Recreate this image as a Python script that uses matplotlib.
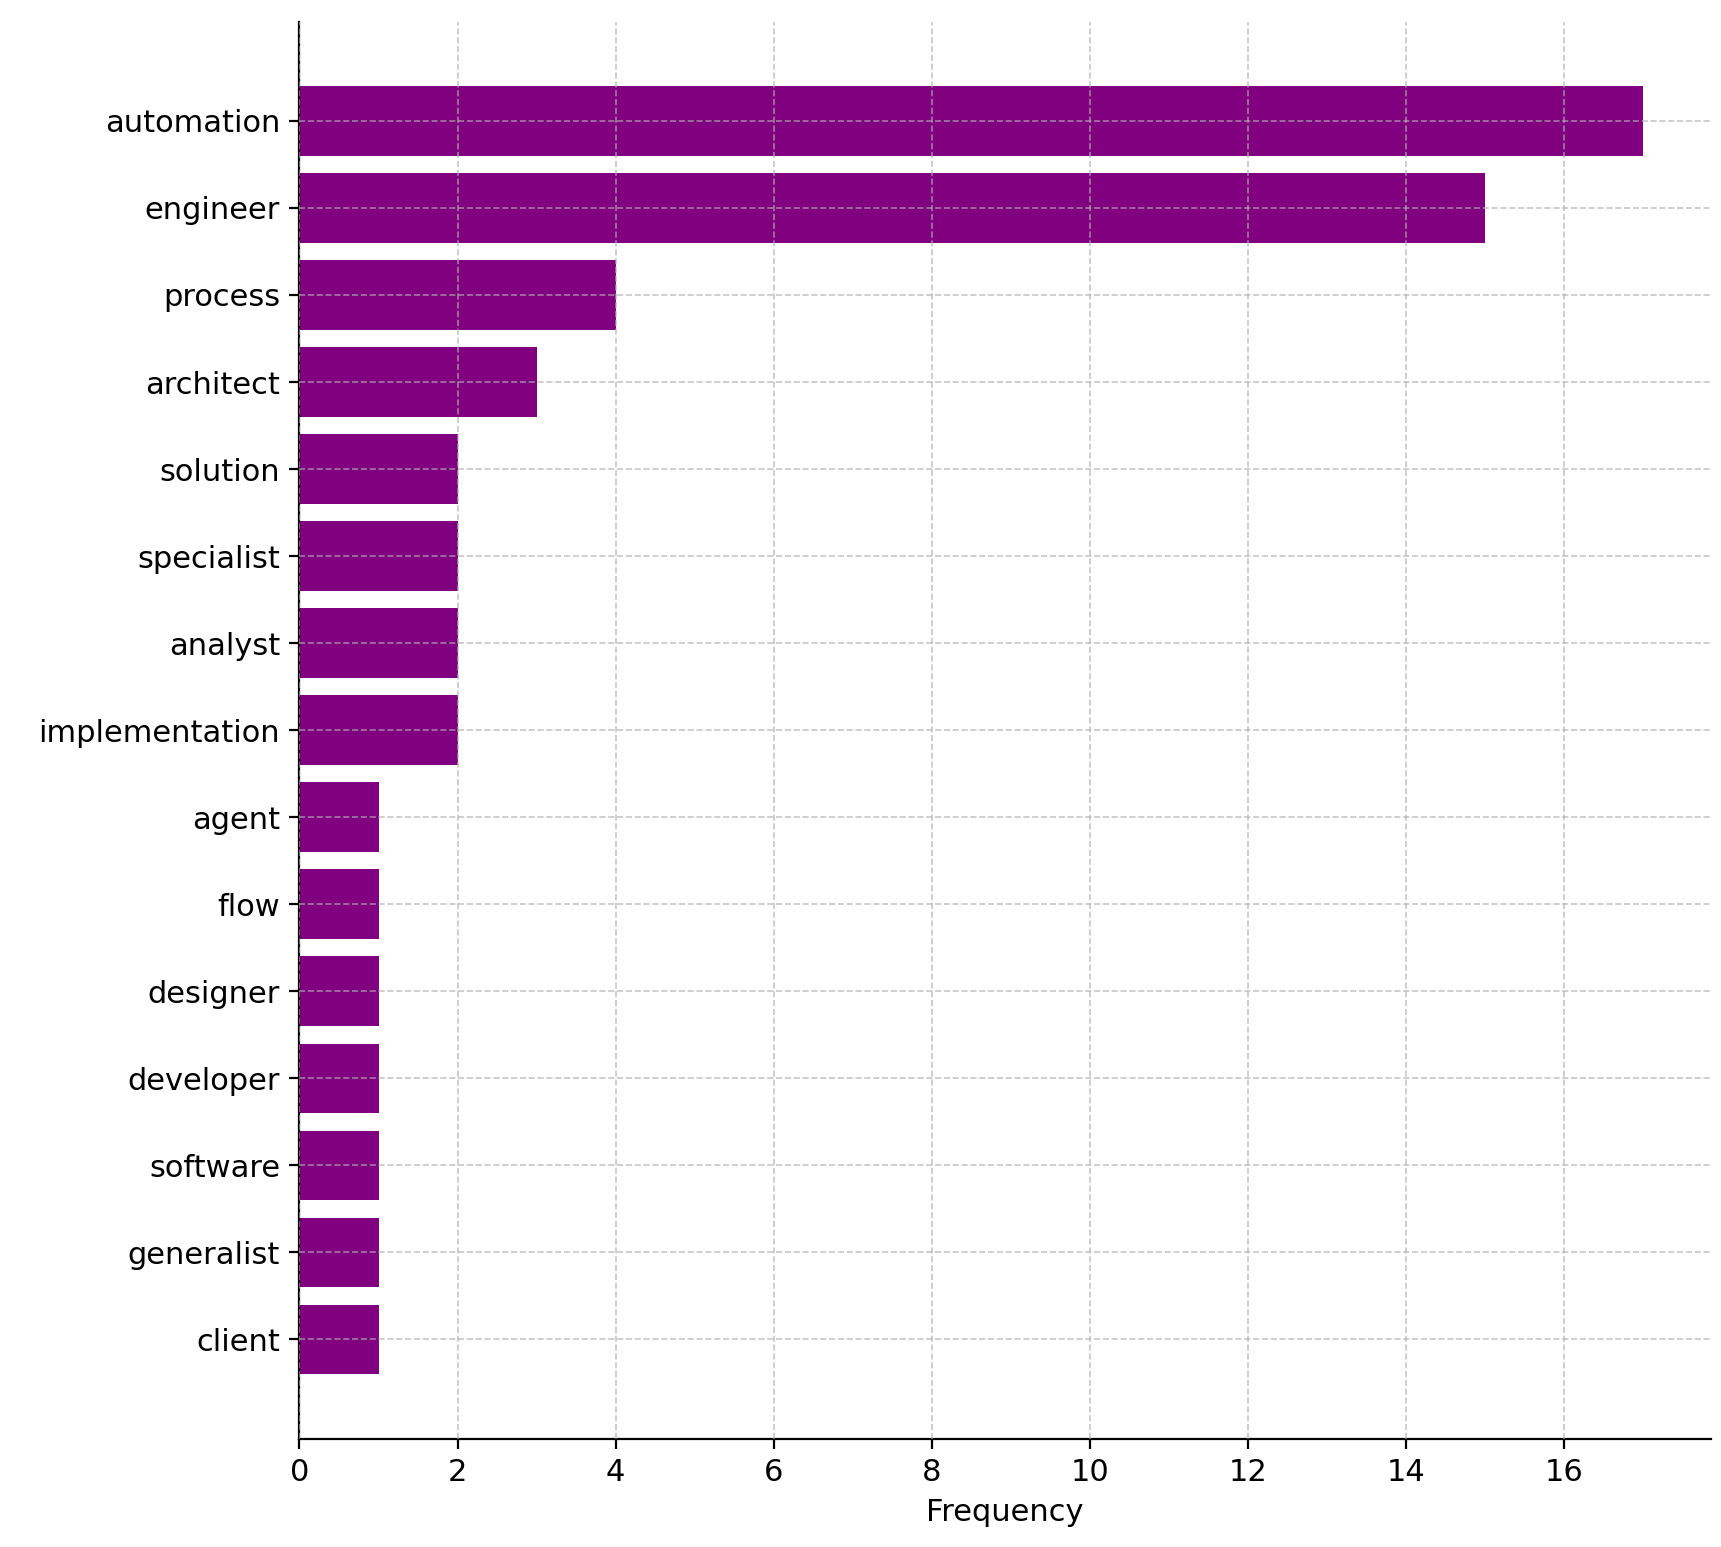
import matplotlib
matplotlib.use("Agg")
import matplotlib.pyplot as plt

words = ['automation', 'engineer', 'process', 'architect', 'solution', 'specialist',
         'analyst', 'implementation', 'agent', 'flow', 'designer', 'developer',
         'software', 'generalist', 'client']
counts = [17, 15, 4, 3, 2, 2, 2, 2, 1, 1, 1, 1, 1, 1, 1]

fig, ax = plt.subplots(figsize=(8.605, 7.735), dpi=200)
ax.barh(words[::-1], counts[::-1], color='purple')
ax.set_xlabel('Frequency', fontsize=11)
ax.tick_params(labelsize=11)
ax.grid(True, linestyle='--', alpha=0.7, color='#b0b0b0', linewidth=0.6)
ax.set_axisbelow(False)
ax.spines['top'].set_visible(False)
ax.spines['right'].set_visible(False)
plt.subplots_adjust(left=0.174, right=0.994, top=0.986, bottom=0.07)
plt.savefig('out.png', dpi=200)
